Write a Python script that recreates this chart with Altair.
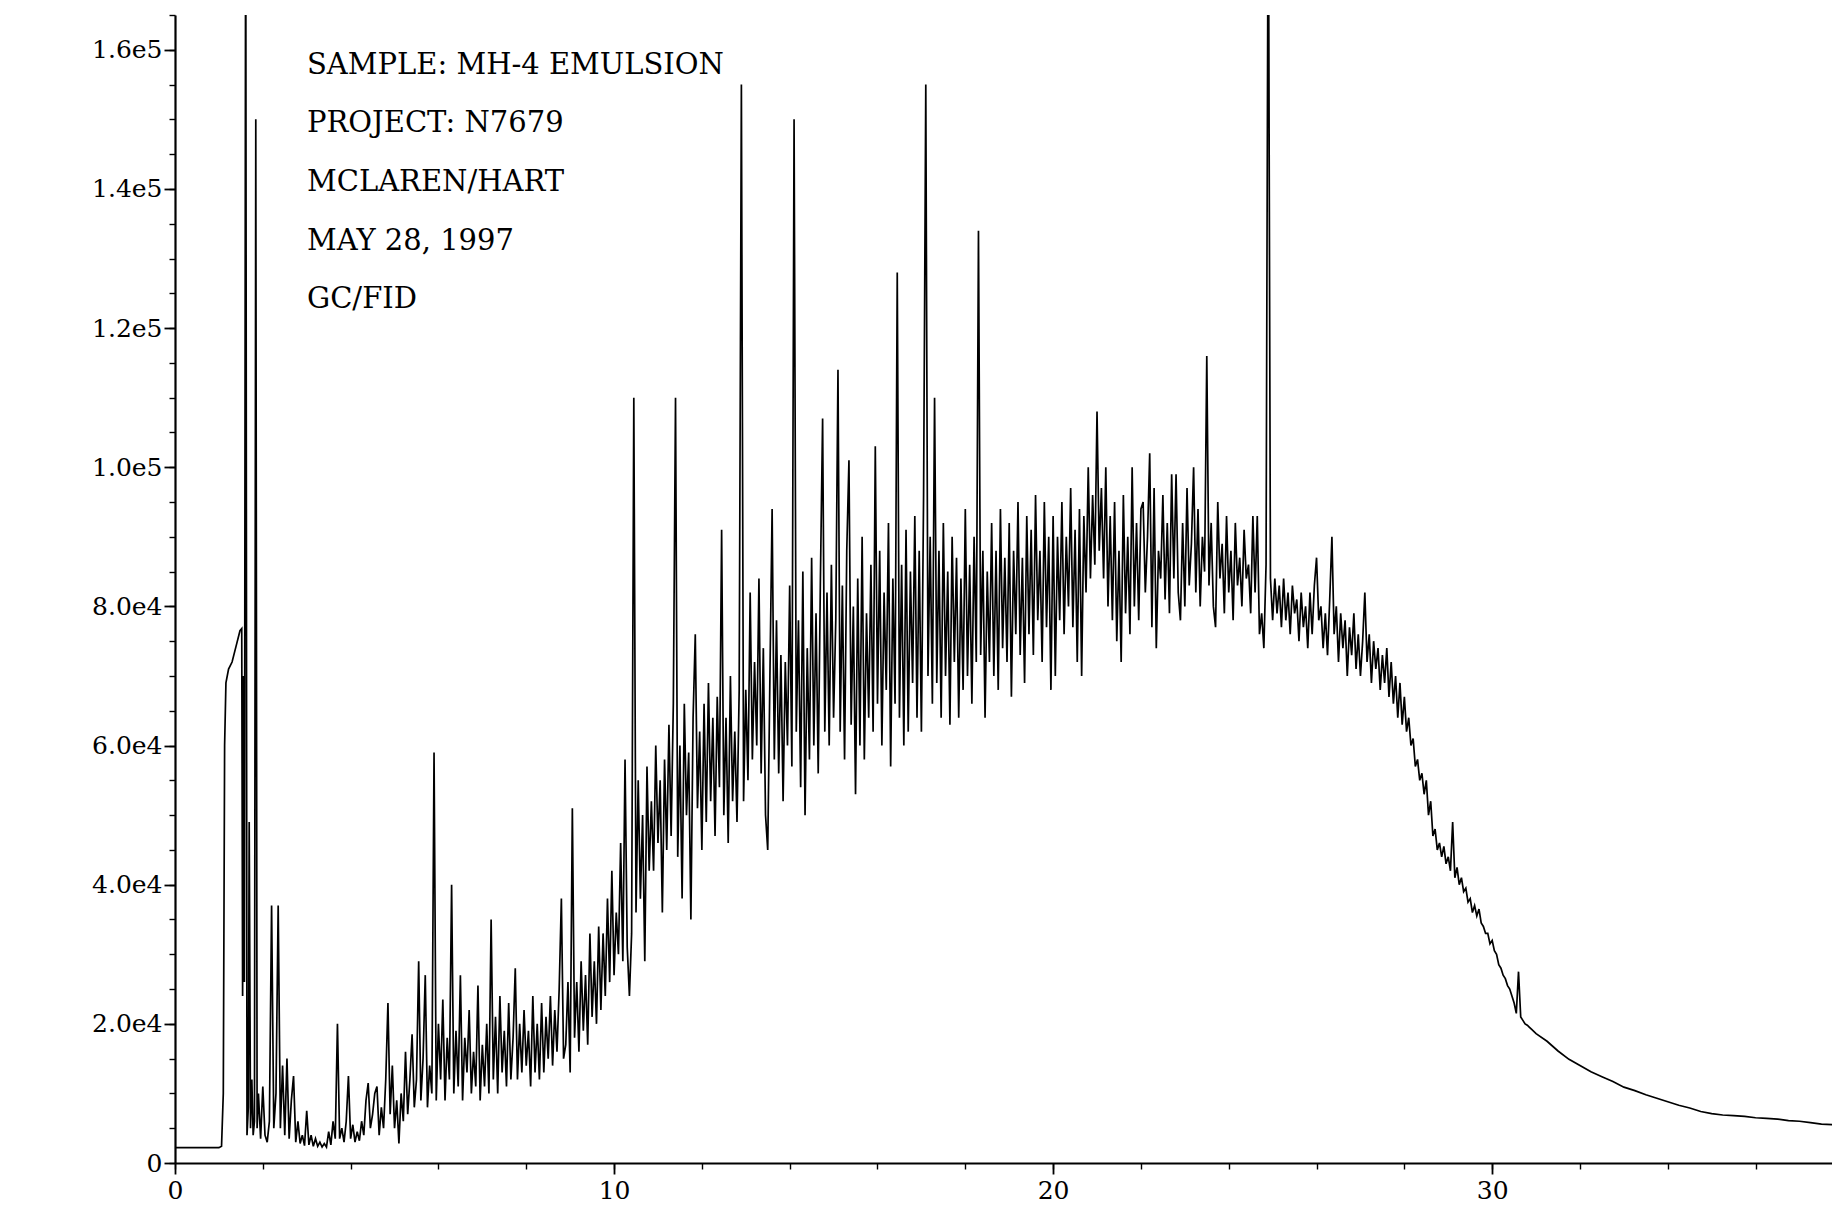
import altair as alt
import pandas as pd

FONT = "DejaVu Serif"

# ---- data (time in minutes, signal in thousands of counts) ----
# solvent front and first early peaks (irregular spacing)
solvent_t = [0.0, 1.00, 1.06, 1.10, 1.13, 1.16, 1.22, 1.30, 1.40, 1.48, 1.52, 1.54,
             1.56, 1.58, 1.61, 1.64, 1.67, 1.69, 1.72, 1.75, 1.78, 1.81, 1.84, 1.87]
solvent_k = [2.2, 2.2, 2.4, 10, 60, 69, 71, 72, 74.5, 76.5, 76.8, 24,
             70, 26, 190, 4, 8, 49, 5, 12, 4, 6, 150, 5]

# main hump, sampled every 0.05 min starting at 1.90 min (one row = one minute)
hump_start = 1.90
hump_step = 0.05
hump_k = [
    10, 3.5, 11, 4, 3, 6, 37, 5, 10, 37, 5, 14, 4, 15, 3.5, 9, 12.5, 3, 6, 2.8,
    4, 2.5, 7.5, 2.6, 4, 2.4, 3.5, 2.4, 3, 2.3, 2.8, 2.3, 4.5, 2.6, 6, 3.5, 20, 3.5, 5, 3,
    6, 12.5, 3.5, 5.5, 3, 4.5, 3.2, 6, 4, 9, 11.5, 5, 7, 10, 11, 4, 8, 5, 12, 23,
    7, 14, 5, 9, 2.8, 10, 6, 16, 7, 12, 18.5, 8, 12, 29, 9, 15, 27, 8, 14, 10,
    59, 9, 20, 12, 23.5, 9, 18, 12, 40, 10, 19, 11, 27, 9, 18, 13, 22, 10, 16, 11,
    25.5, 9, 17, 11, 20, 10, 35, 12, 21, 10, 24, 13, 19, 11, 23, 12, 18, 28, 12, 20,
    13, 22, 14, 19, 11, 24, 13, 20, 12, 23, 13, 21, 15, 24, 14, 22, 16, 25, 38, 15,
    17, 26, 13, 51, 18, 26, 16, 29, 19, 27, 17, 33, 21, 29, 20, 34, 22, 33, 24, 38,
    26, 42, 27, 36, 30, 46, 29, 58, 31, 24, 33, 110, 36, 55, 38, 50, 29, 57, 42, 52,
    42, 60, 46, 55, 36, 58, 45, 63, 47, 66, 110, 44, 60, 38, 66, 50, 59, 35, 64, 76,
    51, 62, 45, 66, 49, 69, 52, 64, 47, 67, 54, 91, 50, 64, 46, 70, 52, 62, 49, 68,
    155, 52, 68, 55, 82, 58, 72, 60, 84, 56, 74, 50, 45, 70, 94, 58, 78, 56, 73, 52,
    72, 60, 83, 57, 150, 62, 78, 54, 85, 50, 74, 58, 87, 60, 79, 56, 84, 107, 62, 82,
    60, 86, 64, 78, 114, 62, 83, 58, 88, 101, 63, 80, 53, 84, 60, 90, 58, 79, 64, 86,
    62, 103, 66, 88, 60, 82, 68, 92, 57, 84, 66, 128, 64, 86, 60, 91, 62, 85, 69, 93,
    64, 88, 62, 96, 155, 70, 90, 66, 110, 69, 88, 64, 92, 70, 85, 63, 90, 72, 87, 64,
    84, 68, 94, 70, 86, 66, 90, 72, 134, 73, 88, 64, 85, 72, 92, 70, 88, 68, 94, 74,
    87, 72, 92, 67, 88, 76, 95, 73, 87, 69, 93, 76, 91, 73, 96, 78, 88, 72, 95, 77,
    90, 68, 93, 70, 90, 78, 95, 76, 90, 80, 97, 77, 91, 72, 94, 70, 93, 82, 100, 84,
    96, 86, 108, 88, 97, 84, 100, 80, 93, 78, 95, 75, 88, 72, 96, 79, 90, 76, 100, 80,
    92, 78, 94, 95, 82, 90, 102, 77, 97, 74, 88, 84, 96, 81, 92, 79, 99, 84, 99, 82,
    78, 92, 80, 97, 83, 89, 100, 82, 94, 80, 90, 85, 116, 83, 92, 80, 77, 95, 84, 89,
    79, 93, 82, 88, 78, 92, 83, 87, 80, 91, 84, 86, 79, 93, 82, 93, 76, 79, 74, 86,
    190, 84, 78, 84, 79, 83, 77, 84, 78, 82, 76, 83, 79, 81, 75, 82, 77, 80, 74, 82,
    76, 83, 87, 78, 80, 74, 79, 73, 81, 90, 76, 80, 72, 79, 74, 78, 70, 77, 73, 79,
    71, 76, 70, 75, 82, 72, 76, 69, 75, 71, 74, 68, 73, 69, 74, 67, 72, 66, 70, 64,
    69, 63, 67, 62, 64, 60, 61, 57, 58, 55, 56, 53, 55, 50, 52, 47, 48, 45, 46, 44,
    45.5, 43, 44, 42, 49, 41, 42.5, 40, 41, 39, 39.5, 37.5, 38, 36, 37, 35.5, 36.5, 34.5, 34, 33,
    33, 31.5, 32, 30.5, 30, 28.5, 28, 27, 26.5, 25.5, 25, 24, 23, 21.5, 27.5, 21, 20.5, 20, 19.8, 19.5,
]

# smooth tail
tail_t = [30.90, 31.0, 31.25, 31.5, 31.75, 32.0, 32.25, 32.5, 32.75, 33.0, 33.25, 33.5,
          33.75, 34.0, 34.25, 34.5, 34.75, 35.0, 35.25, 35.5, 35.75, 36.0, 36.25, 36.5,
          36.75, 37.0, 37.25, 37.5, 37.75]
tail_k = [19.2, 18.6, 17.5, 16.1, 14.9, 14.0, 13.1, 12.4, 11.7, 10.9, 10.4, 9.8,
          9.3, 8.8, 8.3, 7.9, 7.4, 7.1, 6.9, 6.8, 6.7, 6.5, 6.4, 6.3,
          6.1, 6.0, 5.8, 5.6, 5.5]

note_lines = ["SAMPLE:  MH-4 EMULSION", "PROJECT:  N7679", "MCLAREN/HART",
              "MAY 28, 1997", "GC/FID"]

x_major = [0, 10, 20, 30]
x_minor = [0, 2, 4, 6, 8, 10, 12, 14, 16, 18, 20, 22, 24, 26, 28, 30, 32, 34, 36]
y_major = [0, 20000, 40000, 60000, 80000, 100000, 120000, 140000, 160000]
y_minor = list(range(0, 165001, 5000))

# ---- table ----
hump_t = [round(hump_start + i * hump_step, 2) for i in range(len(hump_k))]
df = pd.DataFrame({
    "t": solvent_t + hump_t + tail_t,
    "signal": [k * 1000 for k in solvent_k + hump_k + tail_k],
})

x_scale = alt.Scale(domain=[0, 37.74], nice=False, zero=False)
y_scale = alt.Scale(domain=[0, 165000], nice=False)

common_axis = dict(title=None, grid=False, tickColor="black", labelColor="black",
                   domainColor="black", labelFont=FONT, labelFlush=False)

base = alt.Chart(df)

trace = base.mark_line(color="black", strokeWidth=1.7, clip=True).encode(
    x=alt.X("t:Q", scale=x_scale,
            axis=alt.Axis(orient="bottom", values=x_major, format="d", tickSize=11,
                          tickWidth=1.8, domainWidth=2.2, labelFontSize=25, labelPadding=4,
                          **common_axis)),
    y=alt.Y("signal:Q", scale=y_scale,
            axis=alt.Axis(orient="left", values=y_major, tickSize=11, tickWidth=1.8,
                          domainWidth=2.2, labelFontSize=25, labelPadding=2,
                          labelExpr="datum.value == 0 ? '0' : replace(format(datum.value, '.1e'), '+', '')",
                          **common_axis)),
)

minor = base.mark_line(strokeOpacity=0).encode(
    x=alt.X("t:Q", scale=x_scale,
            axis=alt.Axis(orient="bottom", values=x_minor, labels=False, domain=False,
                          tickSize=6, tickWidth=1.4, **common_axis)),
    y=alt.Y("signal:Q", scale=y_scale,
            axis=alt.Axis(orient="left", values=y_minor, labels=False, domain=False,
                          tickSize=6, tickWidth=1.4, **common_axis)),
)

note_y = [49.5, 108, 167, 225.5, 284]
notes = [
    alt.Chart(pd.DataFrame({"note": [txt]})).mark_text(
        align="left", baseline="middle", font=FONT, fontSize=29, color="black"
    ).encode(x=alt.value(132), y=alt.value(yy), text="note:N")
    for txt, yy in zip(note_lines, note_y)
]

chart = alt.layer(trace, minor, *notes).resolve_axis(
    x="independent", y="independent"
).properties(
    width=1657, height=1148,
    autosize=alt.AutoSizeParams(type="none"),
    padding={"left": 167, "top": 7, "right": 0, "bottom": 40},
).configure(background="white").configure_view(strokeWidth=0, strokeOpacity=0)

chart.save("out.html", embed_options={"renderer": "svg", "actions": False})
